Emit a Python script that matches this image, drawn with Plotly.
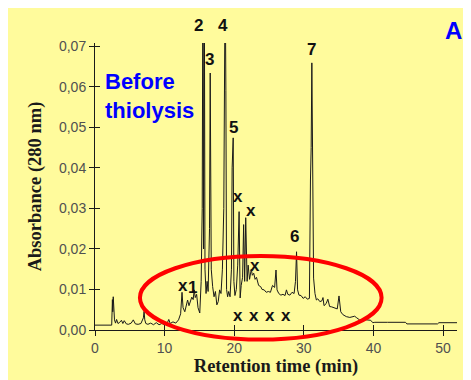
import plotly.graph_objects as go

# Retention time (min) and absorbance (280 nm)
rt = [0, 2.4, 2.5, 2.55, 2.62, 2.7, 2.8, 2.95, 3.1, 3.3, 3.5, 3.8, 4.0, 4.2, 4.5, 4.8, 5.2, 5.5, 5.8,
      6.2, 6.6, 6.95, 7.05, 7.15, 7.3, 7.6, 8.0, 8.4, 8.8, 9.2, 9.6, 10.0, 10.4, 10.6, 10.8, 11.2,
      11.6, 12.0, 12.3, 12.5, 12.65, 12.9, 13.1, 13.3, 13.5, 13.7, 13.9, 14.1, 14.25, 14.4, 14.6,
      14.8, 15.05, 15.25, 15.4, 15.5, 15.6, 15.7, 15.8, 15.95, 16.1, 16.25, 16.45, 16.55, 16.7,
      16.9, 17.1, 17.3, 17.5, 17.7, 17.9, 18.1, 18.3, 18.5, 18.7, 18.8, 18.9, 19.05, 19.2, 19.4,
      19.6, 19.7, 19.85, 19.95, 20.1, 20.3, 20.5, 20.7, 20.85, 21.0, 21.2, 21.35, 21.5, 21.65,
      21.85, 22.0, 22.2, 22.45, 22.6, 22.8, 23.0, 23.2, 23.5, 23.8, 24.0, 24.3, 24.6, 24.9, 25.2,
      25.5, 25.8, 26.0, 26.15, 26.4, 26.7, 27.0, 27.3, 27.5, 27.7, 28.0, 28.3, 28.6, 28.8, 28.95,
      29.1, 29.3, 29.6, 29.9, 30.2, 30.5, 30.8, 30.95, 31.05, 31.15, 31.25, 31.4, 31.6, 31.8,
      32.0, 32.3, 32.6, 32.75, 32.9, 33.2, 33.45, 33.7, 34.0, 34.4, 34.8, 35.05, 35.3, 35.6,
      36.1, 36.6, 37.0, 37.3, 37.6, 38.0, 39.0, 39.6, 39.9, 40.2, 42.0, 44.6, 44.8, 45.5, 45.7,
      46.0, 49.2, 49.4, 52.0]
absorbance = [0.0012, 0.0012, 0.0075, 0.0045, 0.0082, 0.0060, 0.0025, 0.0017, 0.0026, 0.0016,
              0.0018, 0.0024, 0.0016, 0.0023, 0.0015, 0.0014, 0.0017, 0.0025, 0.0015, 0.0014,
              0.0016, 0.0030, 0.0046, 0.0025, 0.0016, 0.0014, 0.0017, 0.0013, 0.0018, 0.0013,
              0.0016, 0.0013, 0.0018, 0.0026, 0.0016, 0.0020, 0.0017, 0.0025, 0.0040, 0.0093,
              0.0055, 0.0045, 0.0060, 0.0074, 0.0060, 0.0072, 0.0081, 0.0075, 0.0099, 0.0080,
              0.0088, 0.0055, 0.0042, 0.0120, 0.0300, 0.0900, 0.0200, 0.0900, 0.0150, 0.0090,
              0.0120, 0.0095, 0.0250, 0.0634, 0.0150, 0.0107, 0.0082, 0.0095, 0.0062, 0.0070,
              0.0099, 0.0090, 0.0150, 0.0300, 0.0900, 0.0590, 0.0100, 0.0082, 0.0095, 0.0082,
              0.0150, 0.0400, 0.0474, 0.0120, 0.0085, 0.0100, 0.0160, 0.0292, 0.0079, 0.0110,
              0.0130, 0.0260, 0.0120, 0.0277, 0.0120, 0.0160, 0.0125, 0.0150, 0.0135, 0.0140,
              0.0125, 0.0130, 0.0110, 0.0107, 0.0100, 0.0099, 0.0093, 0.0095, 0.0093, 0.0110,
              0.0105, 0.0148, 0.0099, 0.0090, 0.0086, 0.0088, 0.0085, 0.0099, 0.0088, 0.0086,
              0.0093, 0.0090, 0.0120, 0.0193, 0.0099, 0.0086, 0.0085, 0.0078, 0.0082, 0.0076,
              0.0078, 0.0370, 0.0450, 0.0659, 0.0400, 0.0128, 0.0090, 0.0074, 0.0077, 0.0070,
              0.0072, 0.0080, 0.0060, 0.0065, 0.0076, 0.0058, 0.0057, 0.0055, 0.0052, 0.0084,
              0.0045, 0.0038, 0.0033, 0.0031, 0.0032, 0.0034, 0.0030, 0.0025, 0.0025, 0.0024,
              0.0018, 0.0019, 0.0019, 0.0019, 0.0015, 0.0015, 0.0016, 0.0015, 0.0015, 0.0018,
              0.0018]

x_ticks = [0, 10, 20, 30, 40, 50]
y_ticks = [0.00, 0.01, 0.02, 0.03, 0.04, 0.05, 0.06, 0.07]

# Peak labels (data coordinates)
peak_labels = ["3", "5", "7", "6", "1"]
peak_label_rt = [16.5, 19.84, 31.09, 28.59, 14.06]
peak_label_abs = [0.0667, 0.0499, 0.0691, 0.0230, 0.0104]
# Labels placed above the plot top
top_labels = ["2", "4"]
top_label_rt = [14.92, 18.32]
# "x" markers
x_mark_rt = [12.58, 20.51, 22.34, 22.95, 20.56, 22.81, 25.1, 27.4]
x_mark_abs = [0.0111, 0.0329, 0.0294, 0.0160, 0.0037, 0.0037, 0.0037, 0.0037]

X_RANGE = [0, 52]
Y_RANGE = [0, 0.0708]

fig = go.Figure()
fig.add_trace(go.Scatter(x=rt, y=absorbance, mode="lines",
                         line=dict(color="#1a1a1a", width=1), showlegend=False,
                         hoverinfo="skip"))
# invisible trace for the overlay axes (inner half of the crossing ticks)
fig.add_trace(go.Scatter(x=rt[:1], y=absorbance[:1], mode="lines", xaxis="x2", yaxis="y2",
                         opacity=0, showlegend=False, hoverinfo="skip"))

tickfont = dict(family="Liberation Sans, Arial, sans-serif", size=14, color="#505050")
titlefont = dict(family="Liberation Serif, Times New Roman, serif", size=18.5, color="#1a1a1a")

# the page body has an 8px margin, so the figure is 8px smaller than the window
fig.update_layout(
    width=463, height=372,
    margin=dict(l=87, r=14, t=35, b=50),
    paper_bgcolor="#fffb9c",
    plot_bgcolor="rgba(0,0,0,0)",
    separators=",.",
    xaxis=dict(range=X_RANGE, tickvals=x_ticks, ticks="outside", ticklen=5, tickwidth=1,
               tickcolor="#1a1a1a", showline=True, linecolor="#1a1a1a", linewidth=1,
               showgrid=False, zeroline=False, tickfont=tickfont, automargin=False,
               title=dict(text="<b>Retention time (min)</b>", font=titlefont, standoff=4)),
    yaxis=dict(range=Y_RANGE, tickvals=y_ticks, tickformat=".2f", ticks="outside", ticklen=5,
               tickwidth=1, tickcolor="#1a1a1a", showline=True, linecolor="#1a1a1a",
               linewidth=1, showgrid=False, zeroline=False, tickfont=tickfont, automargin=False,
               title=dict(text="<b>Absorbance (280 nm)</b>", font=titlefont, standoff=12)),
    xaxis2=dict(range=X_RANGE, tickvals=x_ticks, ticks="inside", ticklen=5, tickwidth=1,
                tickcolor="#1a1a1a", overlaying="x", side="bottom", anchor="y2",
                showticklabels=False, showgrid=False, zeroline=False, showline=False,
                automargin=False),
    yaxis2=dict(range=Y_RANGE, tickvals=y_ticks, ticks="inside", ticklen=5, tickwidth=1,
                tickcolor="#1a1a1a", overlaying="y", side="left", anchor="x2",
                showticklabels=False, showgrid=False, zeroline=False, showline=False,
                automargin=False),
)

# red ellipse highlighting the unresolved hump
fig.add_shape(type="circle", xref="paper", yref="paper", x0=0.1241, x1=0.7917,
              y0=-0.0331, y1=0.2578, line=dict(color="#ff0000", width=4), layer="above")

labfont = dict(family="Liberation Sans, Arial, sans-serif", size=17, color="#111111")
for t, a, s in zip(peak_label_rt, peak_label_abs, peak_labels):
    fig.add_annotation(x=t, y=a, text="<b>%s</b>" % s, showarrow=False, font=labfont,
                       xanchor="center", yanchor="middle")
for t, s in zip(top_label_rt, top_labels):
    fig.add_annotation(x=t, y=1.0627, xref="x", yref="paper", text="<b>%s</b>" % s,
                       showarrow=False, font=labfont, xanchor="center", yanchor="middle")
for t, a in zip(x_mark_rt, x_mark_abs):
    fig.add_annotation(x=t, y=a, text="<b>x</b>", showarrow=False, font=labfont,
                       xanchor="center", yanchor="middle")

fig.add_annotation(x=1.2, y=0.0578, text="<b>Before<br>thiolysis</b>", showarrow=False,
                   xanchor="left", yanchor="middle", align="left",
                   font=dict(family="Liberation Sans, Arial, sans-serif", size=22, color="#0000ff"))
fig.add_annotation(x=0.990, y=1.045, xref="paper", yref="paper", text="<b>A</b>",
                   showarrow=False, xanchor="center", yanchor="middle",
                   font=dict(family="Liberation Sans, Arial, sans-serif", size=24, color="#0000ff"))

fig.write_html("out.html")
